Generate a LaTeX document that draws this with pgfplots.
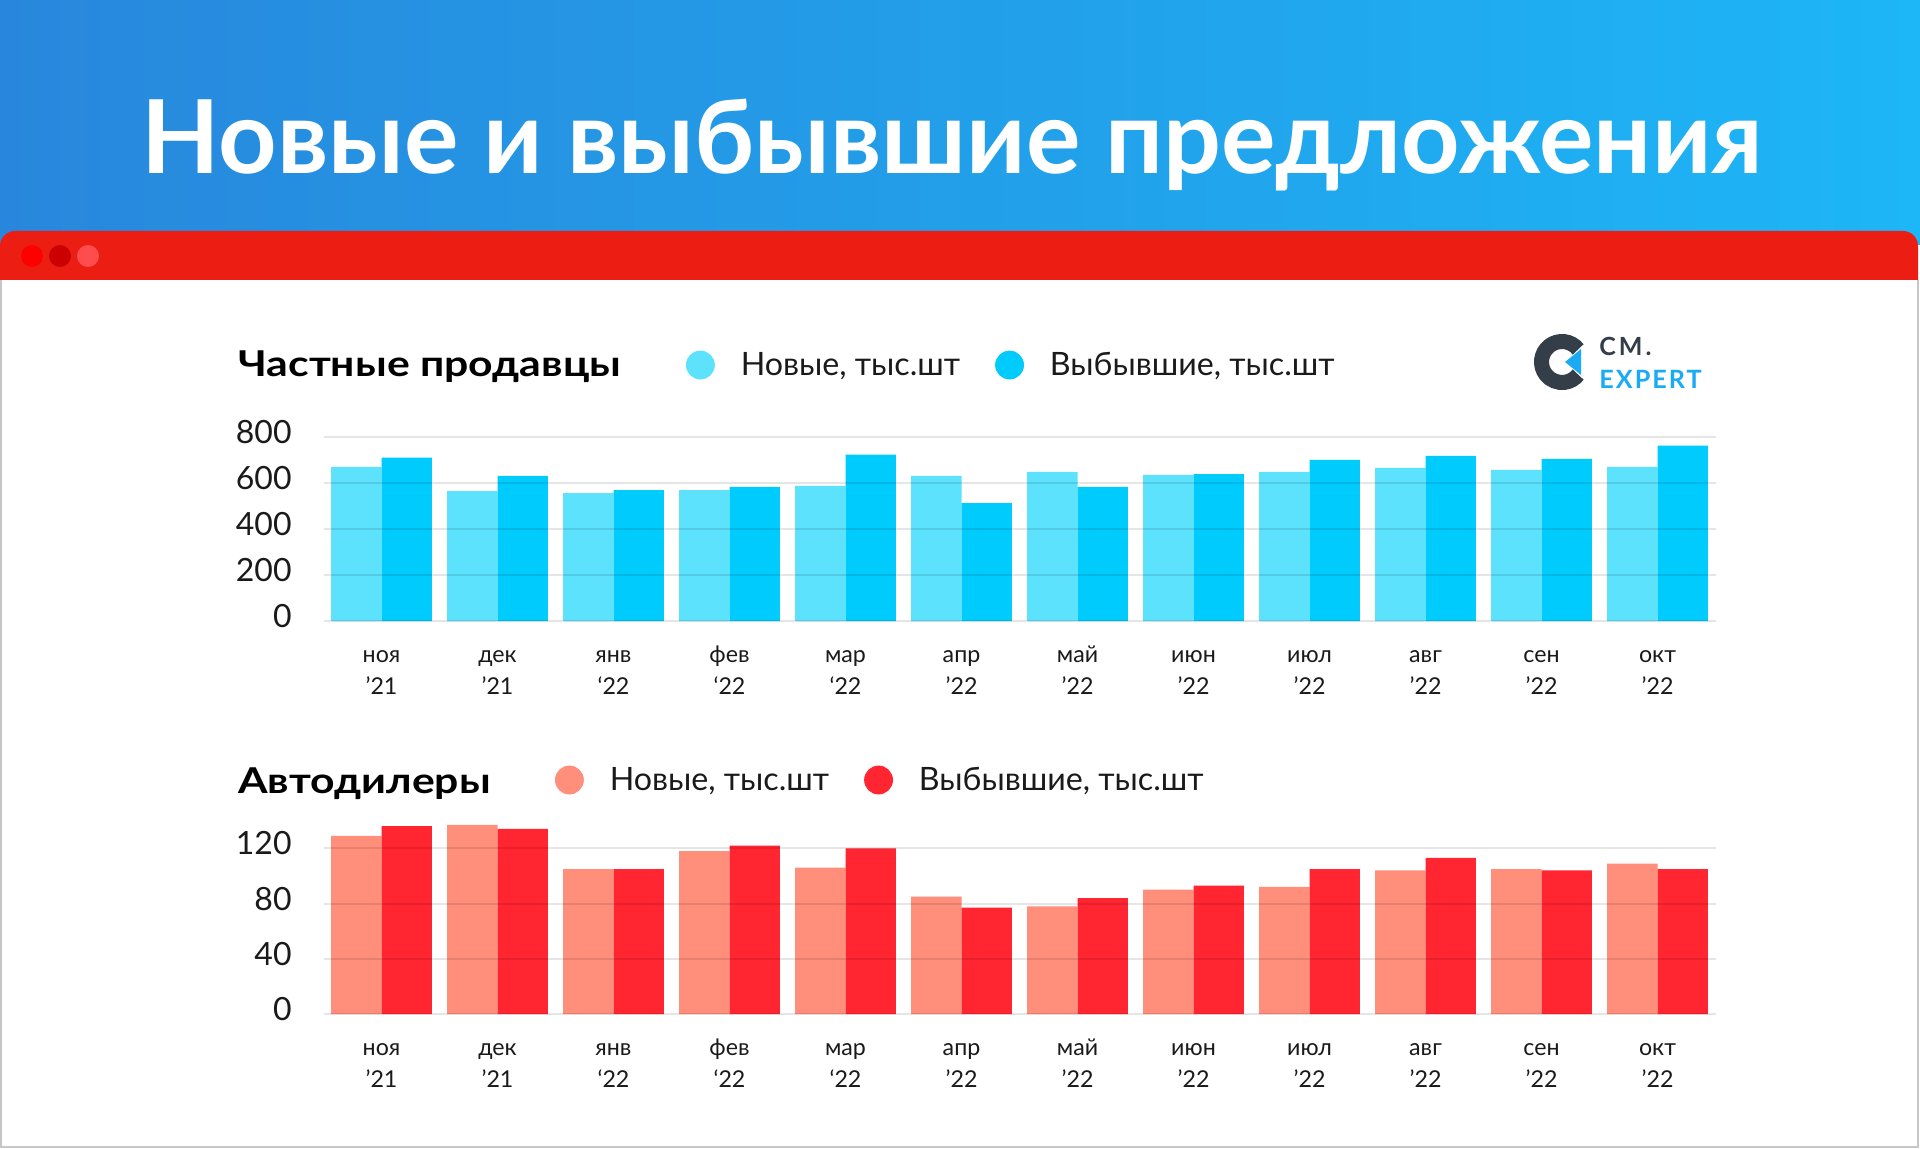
\documentclass[border=0pt]{standalone}
\usepackage{fontspec}
\setmainfont{Lato}
\usepackage{pgfplots}
\pgfplotsset{compat=1.18}
\definecolor{hdrL}{HTML}{2887DC}
\definecolor{hdrR}{HTML}{1DB6F6}
\definecolor{barred}{HTML}{EC1D12}
\definecolor{cNewT}{HTML}{5CE2FD}
\definecolor{cOutT}{HTML}{00CBFD}
\definecolor{cNewB}{HTML}{FF8E7B}
\definecolor{cOutB}{HTML}{FF2632}
\definecolor{logoDark}{HTML}{343E49}
\definecolor{logoBlue}{HTML}{1AABF4}
\definecolor{txt}{HTML}{1A1A1A}
\newcommand{\tl}[2]{\vphantom{Йф}#1\\#2}

\pgfplotsset{
  panel/.style={
    anchor=south west, width=696pt, scale only axis,
    xmin=-0.5, xmax=11.5, ymin=0,
    axis line style={draw=none}, tick style={draw=none},
    xtick={0,...,11},
    xticklabels={\tl{ноя}{'21},\tl{дек}{'21},\tl{янв}{‘22},\tl{фев}{‘22},\tl{мар}{‘22},\tl{апр}{'22},\tl{май}{'22},\tl{июн}{'22},\tl{июл}{'22},\tl{авг}{'22},\tl{сен}{'22},\tl{окт}{'22}},
    ymajorgrids, grid style={black, opacity=0.1, line width=1pt},
    axis on top,
    yticklabel style={font=\fontsize{16}{16}\selectfont, text=txt, anchor=east, inner sep=0pt, xshift=-15.75pt, yshift=2.5pt},
    xticklabel style={font=\fontsize{11.6}{16}\selectfont, text=txt, align=center, anchor=north, inner sep=0pt, yshift=-10.4pt},
    legend style={draw=none, fill=none, inner sep=0pt, outer sep=0pt, legend columns=-1,
      font=\fontsize{16.1}{17}\selectfont, text=txt,
      nodes={inner sep=0pt},
      /tikz/every odd column/.append style={column sep=13pt},
      /tikz/every even column/.append style={column sep=17.5pt}},
  },
  bnew/.style={ybar, bar width=0.435, bar shift=-0.2175, draw=none, forget plot},
  bout/.style={ybar, bar width=0.435, bar shift=0.2175, draw=none, forget plot},
}

\begin{document}
\begin{tikzpicture}
\useasboundingbox (0,0) rectangle (960pt,574pt);
\begin{scope}[yshift=574pt, x=0.5pt, y=-0.5pt]
  \shade[left color=hdrL, right color=hdrR] (0,0) rectangle (1920,245);
  \fill[barred] (0,282) [rounded corners=7.5pt] -- (0,231) -- (1918,231) [sharp corners] -- (1918,282) -- cycle;
  \fill[white] (0,280) rectangle (1920,1148);
  \draw[black!22, line width=1pt] (1,280) -- (1,1147) -- (1918,1147) -- (1918,280);
  \fill[red] (32,256) circle (5.5pt);
  \fill[black!20!red] (60,256) circle (5.5pt);
  \fill[red!70!white] (88,256) circle (5.5pt);
  \node[text=white, font=\bfseries\fontsize{51}{51}\selectfont, anchor=base, inner sep=0pt] at (952,174) {Новые и выбывшие предложения};
  \node[text=black, font=\bfseries\fontsize{17.8}{18}\selectfont, anchor=base west, inner sep=0pt] at (238,377) {\scalebox{1.2}[1]{Частные продавцы}};
  \node[text=black, font=\bfseries\fontsize{17.8}{18}\selectfont, anchor=base west, inner sep=0pt] at (238,793) {\scalebox{1.2}[1]{Автодилеры}};
  \node[text=logoDark, font=\bfseries\fontsize{12.5}{12}\selectfont\addfontfeatures{LetterSpace=12}, anchor=base west, inner sep=0pt] at (1599,356) {CM.};
  \node[text=logoBlue, font=\bfseries\fontsize{12.6}{12}\selectfont\addfontfeatures{LetterSpace=8}, anchor=base west, inner sep=0pt] at (1599,388) {EXPERT};
\end{scope}
\draw[logoDark, line width=7.5pt] (781pt,393pt) ++(38:10.25pt) arc[start angle=38, end angle=322, radius=10.25pt];
\fill[logoBlue] (782.5pt,393pt) -- (790.5pt,399.5pt) -- (790.5pt,386.5pt) -- cycle;

\begin{axis}[panel, at={(161.75pt,263.5pt)}, height=92pt, ymax=800,
  ytick={0,200,400,600,800}, yticklabels={0,200,400,600,800},
  legend style={at={(0.2604,1.391)}, anchor=west}]
\addplot[bnew, fill=cNewT] coordinates {(0,670) (1,565) (2,556) (3,569) (4,587) (5,631) (6,648) (7,635) (8,648) (9,666) (10,657) (11,670)};
\addplot[bout, fill=cOutT] coordinates {(0,710) (1,631) (2,569) (3,583) (4,723) (5,512) (6,583) (7,639) (8,701) (9,718) (10,705) (11,762)};
\addlegendimage{legend image code/.code={\fill[cNewT] (0pt,0pt) circle (7pt);}}
\addlegendentry{Новые, тыс.шт}
\addlegendimage{legend image code/.code={\fill[cOutT] (0pt,0pt) circle (7pt);}}
\addlegendentry{Выбывшие, тыс.шт}
\end{axis}

\begin{axis}[panel, at={(161.75pt,67pt)}, height=96.65pt, ymax=140,
  ytick={0,40,80,120}, yticklabels={0,40,80,120},
  legend style={at={(0.1663,1.2105)}, anchor=west}]
\addplot[bnew, fill=cNewB] coordinates {(0,129) (1,137) (2,105) (3,118) (4,106) (5,85) (6,78) (7,90) (8,92) (9,104) (10,105) (11,109)};
\addplot[bout, fill=cOutB] coordinates {(0,136) (1,134) (2,105) (3,122) (4,120) (5,77) (6,84) (7,93) (8,105) (9,113) (10,104) (11,105)};
\addlegendimage{legend image code/.code={\fill[cNewB] (0pt,0pt) circle (7pt);}}
\addlegendentry{Новые, тыс.шт}
\addlegendimage{legend image code/.code={\fill[cOutB] (0pt,0pt) circle (7pt);}}
\addlegendentry{Выбывшие, тыс.шт}
\end{axis}
\end{tikzpicture}
\end{document}
